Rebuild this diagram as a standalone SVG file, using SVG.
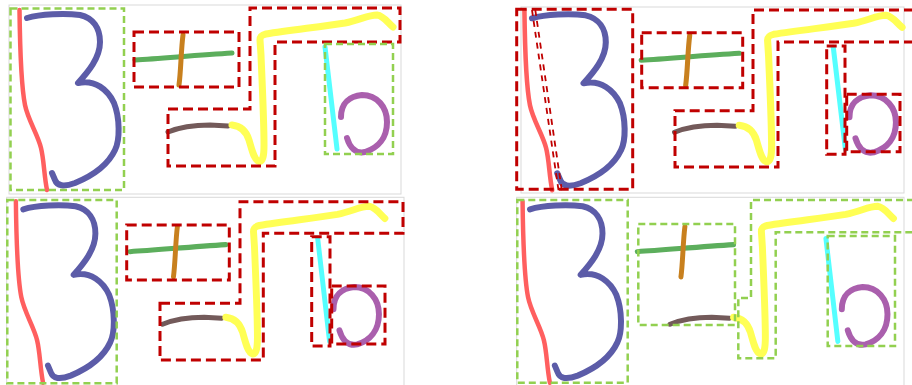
<svg xmlns="http://www.w3.org/2000/svg" xmlns:xlink="http://www.w3.org/1999/xlink" width="912" height="385" viewBox="0 0 912 385">
<style>
.frame{fill:#fff;stroke:#d9d9d9;stroke-width:1}
.ink{fill:none;stroke-linecap:round;stroke-linejoin:round}
.gbox{fill:none;stroke:#92d050;stroke-width:2.5;stroke-dasharray:7 4}
.rbox{fill:none;stroke:#c00000;stroke-width:3;stroke-dasharray:10 5}
.rthin{fill:none;stroke:#c00000;stroke-width:1.8;stroke-dasharray:6 5}
</style>
<defs>
<g id="strokes">
<path class="ink" stroke="#ff5f5f" stroke-width="4.5" d="M19.5,10 C20,50 21,85 25,105 C28,120 38,135 41,148 C44,160 44,175 47,190"/>
<path class="ink" stroke="#5c5ca8" stroke-width="6" d="M27,18 C40,14 65,13 80,15 C93,18 100,28 100,42 C100,58 88,72 78,83 C95,79 108,90 114,103 C120,118 120,140 115,150 C108,165 92,176 75,183 C64,187 57,186 55,180 L52,173"/>
<path class="ink" stroke="#5cae5c" stroke-width="5" d="M135,60 C165,58 200,55 232,53"/>
<path class="ink" stroke="#c8801e" stroke-width="5" d="M183,35 C181,50 181,70 179,85"/>
<path class="ink" stroke="#735a5a" stroke-width="5" d="M168,132 C180,127 195,125 210,125 L228,126"/>
<path class="ink" stroke="#ffff55" stroke-width="7" d="M232,125 C240,126 246,130 249,140 C252,150 254,160 259,161.5 C263,162 264,155 264,145 C264,120 262,80 261,55 L260,40 C260,36 262,35 266,34 C290,30 320,27 345,23 C360,20 368,15 377,15 C384,16 388,23 393,27"/>
<path class="ink" stroke="#55ffff" stroke-width="5" d="M325,47 L337,149"/>
<path class="ink" stroke="#aa5fad" stroke-width="6" d="M341,117 C341,103 350,96 362,95 C377,95 387,107 387,122 C387,138 378,148 365,152 C356,154 350,148 347,138"/>
</g>
</defs>
<rect width="912" height="385" fill="#fff"/>

<g id="panel-top-left">
<rect class="frame" x="9" y="5" width="392" height="189"/>
<use xlink:href="#strokes" href="#strokes"/>
<rect class="gbox" x="10.5" y="8.5" width="113.5" height="181.5"/>
<rect class="rbox" x="134" y="32" width="105" height="55"/>
<path class="rbox" d="M168,109 L250,109 L250,8 L400,8 L400,42 L275,42 L275,166 L168,166 Z"/>
<rect class="gbox" x="325" y="44" width="68" height="110"/>
</g>

<g id="panel-top-right">
<rect class="frame" x="521" y="7" width="383" height="186"/>
<use xlink:href="#strokes" href="#strokes" transform="translate(504.7,0.3) scale(1.011,1)"/>
<rect class="rbox" x="516.7" y="9.3" width="116" height="180"/>
<path class="rthin" d="M532,10 L558.7,191.5"/>
<path class="rthin" d="M535.3,10 L562,191.5"/>
<rect class="rbox" x="641.7" y="32.7" width="101" height="55"/>
<path class="rbox" d="M914,10 L753,10 L753,110.7 L675,110.7 L675,167 L778,167 L778,42 L914,42"/>
<rect class="rbox" x="826.7" y="46" width="18.3" height="108.3"/>
<rect class="rbox" x="846.7" y="94.3" width="53.3" height="57.4"/>
</g>

<g id="panel-bottom-left">
<rect class="frame" x="6.7" y="197.3" width="397.3" height="192"/>
<use xlink:href="#strokes" href="#strokes" transform="translate(-3.4,191.2) scale(0.988,1.008)"/>
<rect class="gbox" x="7.3" y="200" width="109.4" height="183.3"/>
<rect class="rbox" x="126.7" y="225" width="102.6" height="55"/>
<path class="rbox" d="M160,303.3 L240,303.3 L240,201.7 L403,201.7 L403,233.3 L263.3,233.3 L263.3,360 L160,360 Z"/>
<rect class="rbox" x="311.7" y="236.7" width="18.3" height="109.3"/>
<rect class="rbox" x="331.7" y="286" width="53.3" height="58"/>
</g>

<g id="panel-bottom-right">
<rect class="frame" x="516.7" y="197.3" width="387.3" height="192"/>
<use xlink:href="#strokes" href="#strokes" transform="translate(503.2,191.2) scale(0.993,1.008)"/>
<rect class="gbox" x="517.3" y="200" width="110.4" height="182.7"/>
<rect class="gbox" x="638.3" y="224" width="96.7" height="101"/>
<path class="gbox" d="M914,200 L751,200 L751,298 L738.3,298 L738.3,358.3 L775.7,358.3 L775.7,232.3 L914,232.3"/>
<rect class="gbox" x="827.7" y="236" width="67.3" height="110"/>
</g>
</svg>
